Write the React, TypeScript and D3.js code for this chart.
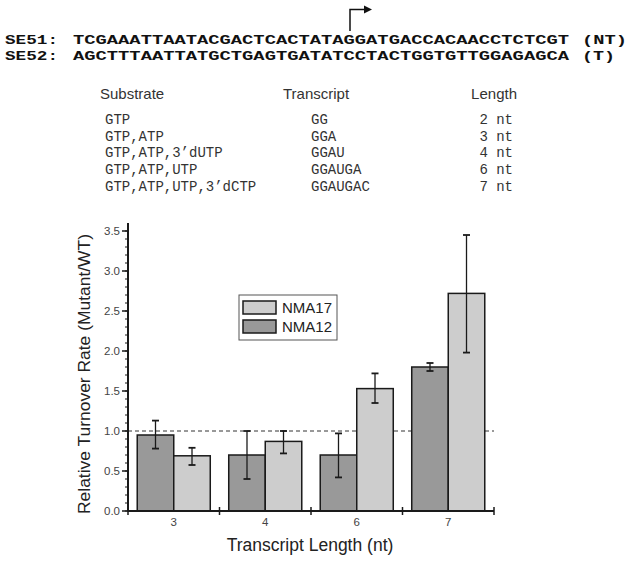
import * as d3 from "d3";

// sequences above the chart
const seqNames = ["SE51:", "SE52:"];
const seqs = [
  "TCGAAATTAATACGACTCACTATAGGATGACCACAACCTCTCGT",
  "AGCTTTAATTATGCTGAGTGATATCCTACTGGTGTTGGAGAGCA",
];
const strands = ["(NT)", "(T)"];

// substrate table
const tableHeaders = ["Substrate", "Transcript", "Length"];
const substrates = ["GTP", "GTP,ATP", "GTP,ATP,3\u2019dUTP", "GTP,ATP,UTP", "GTP,ATP,UTP,3\u2019dCTP"];
const transcripts = ["GG", "GGA", "GGAU", "GGAUGA", "GGAUGAC"];
const lengths = ["2 nt", "3 nt", "4 nt", "6 nt", "7 nt"];

// bar chart data
const categories = ["3", "4", "6", "7"];
const seriesNames = ["NMA12", "NMA17"];
const nma12 = [0.95, 0.7, 0.7, 1.8];
const nma12Lo = [0.78, 0.4, 0.42, 1.75];
const nma12Hi = [1.13, 1.0, 0.97, 1.85];
const nma17 = [0.69, 0.87, 1.53, 2.72];
const nma17Lo = [0.575, 0.72, 1.35, 1.98];
const nma17Hi = [0.79, 1.0, 1.72, 3.45];
const yTicks = [0, 0.5, 1.0, 1.5, 2.0, 2.5, 3.0, 3.5];

const W = 629;
const H = 561;
const SANS = "'Liberation Sans', Arial, sans-serif";
const MONO = "'Liberation Mono', 'Courier New', monospace";
const LIGHT = "#cdcdcd";
const DARK = "#999999";

export default function App() {
  const x = d3.scaleBand().domain(categories).range([128, 494]);
  const xs = d3.scaleBand().domain(seriesNames).range([0, x.bandwidth()]).paddingOuter(0.253);
  const y = d3.scaleLinear().domain([0, 3.6]).range([511, 223]);
  const minor = d3.range(0, 36).map((d) => d / 10);

  const series = [
    { name: "NMA12", vals: nma12, lo: nma12Lo, hi: nma12Hi, fill: DARK },
    { name: "NMA17", vals: nma17, lo: nma17Lo, hi: nma17Hi, fill: LIGHT },
  ];
  const bounds = [...categories.map((c) => x(c)!), 494];
  const rowY = d3.scaleLinear().domain([0, 1]).range([124, 140.7]);
  const seqY = [44, 60];
  const strandLen = [45, 33];

  return (
    <svg width={W} height={H} style={{ position: "absolute", left: 0, top: 0, background: "#fff" }}>
      {/* sequences */}
      {seqs.map((s, i) => (
        <g key={i} fontFamily={MONO} fontWeight="bold" fontSize={13.5} fill="#111">
          <text x={5} y={seqY[i]} textLength={53} lengthAdjust="spacingAndGlyphs">{seqNames[i]}</text>
          <text x={73} y={seqY[i]} textLength={496} lengthAdjust="spacingAndGlyphs">{s}</text>
          <text x={582} y={seqY[i]} textLength={strandLen[i]} lengthAdjust="spacingAndGlyphs">{strands[i]}</text>
        </g>
      ))}
      {/* start arrow */}
      <path d="M350,31 V9.5 H366" fill="none" stroke="#111" strokeWidth={1.5} />
      <path d="M364,5.5 L372,9.5 L364,13.5 Z" fill="#111" />

      {/* table */}
      <g fontFamily={SANS} fontSize={15} fill="#333">
        <text x={100} y={99}>{tableHeaders[0]}</text>
        <text x={283} y={99}>{tableHeaders[1]}</text>
        <text x={517} y={99} textAnchor="end">{tableHeaders[2]}</text>
      </g>
      <g fontFamily={MONO} fontSize={14} fill="#333">
        {substrates.map((s, i) => (
          <g key={i}>
            <text x={105} y={rowY(i)}>{s}</text>
            <text x={311} y={rowY(i)}>{transcripts[i]}</text>
            <text x={513} y={rowY(i)} textAnchor="end">{lengths[i]}</text>
          </g>
        ))}
      </g>

      {/* reference line */}
      <line x1={128} x2={494} y1={y(1)} y2={y(1)} stroke="#333" strokeWidth={1} strokeDasharray="4,3" />

      {/* bars */}
      {series.map((s) => (
        <g key={s.name}>
          {categories.map((c, i) => (
            <rect
              key={c}
              x={x(c)! + xs(s.name)!}
              y={y(s.vals[i])}
              width={xs.bandwidth()}
              height={y(0) - y(s.vals[i])}
              fill={s.fill}
              stroke="#1a1a1a"
              strokeWidth={1.5}
            />
          ))}
        </g>
      ))}
      {/* error bars */}
      {series.map((s) => (
        <g key={s.name + "err"} stroke="#1a1a1a" strokeWidth={1.3}>
          {categories.map((c, i) => {
            const cx = x(c)! + xs(s.name)! + xs.bandwidth() / 2;
            return (
              <g key={c}>
                <line x1={cx} x2={cx} y1={y(s.lo[i])} y2={y(s.hi[i])} />
                <line x1={cx - 3.5} x2={cx + 3.5} y1={y(s.lo[i])} y2={y(s.lo[i])} strokeWidth={1.8} />
                <line x1={cx - 3.5} x2={cx + 3.5} y1={y(s.hi[i])} y2={y(s.hi[i])} strokeWidth={1.8} />
              </g>
            );
          })}
        </g>
      ))}

      {/* y axis */}
      <g stroke="#1a1a1a">
        <line x1={128} x2={128} y1={y(3.6)} y2={y(0)} strokeWidth={2} />
        {minor.map((v) => (
          <line key={v} x1={125} x2={128} y1={y(v)} y2={y(v)} strokeWidth={1} />
        ))}
        {yTicks.map((v) => (
          <line key={v} x1={122} x2={128} y1={y(v)} y2={y(v)} strokeWidth={1.5} />
        ))}
      </g>
      <g fontFamily={SANS} fontSize={11.5} fill="#444" textAnchor="end">
        {yTicks.map((v) => (
          <text key={v} x={120} y={y(v) + 4}>{d3.format(".1f")(v)}</text>
        ))}
      </g>
      <text
        transform={`translate(90,374) rotate(-90)`}
        textAnchor="middle"
        fontFamily={SANS}
        fontSize={16}
        fill="#222"
        textLength={280}
        lengthAdjust="spacingAndGlyphs"
      >
        Relative Turnover Rate (Mutant/WT)
      </text>

      {/* x axis */}
      <g stroke="#1a1a1a">
        <line x1={128} x2={494} y1={y(0)} y2={y(0)} strokeWidth={2} />
        {bounds.map((b) => (
          <line key={b} x1={b} x2={b} y1={y(0) - 4} y2={y(0) + 4} strokeWidth={1.5} />
        ))}
      </g>
      <g fontFamily={SANS} fontSize={11.5} fill="#444" textAnchor="middle">
        {categories.map((c) => (
          <text key={c} x={x(c)! + x.bandwidth() / 2} y={526}>{c}</text>
        ))}
      </g>
      <text x={310} y={551} textAnchor="middle" fontFamily={SANS} fontSize={17.5} fill="#222">
        Transcript Length (nt)
      </text>

      {/* legend */}
      <rect x={239} y={295} width={98} height={45} fill="#fff" stroke="#555" strokeWidth={1} />
      {[...series].reverse().map((s, i) => (
        <g key={s.name}>
          <rect x={243} y={301 + i * 19} width={33} height={13} fill={s.fill} stroke="#1a1a1a" strokeWidth={1.5} />
          <text x={282} y={313 + i * 19} fontFamily={SANS} fontSize={15} fill="#222">{s.name}</text>
        </g>
      ))}
    </svg>
  );
}
